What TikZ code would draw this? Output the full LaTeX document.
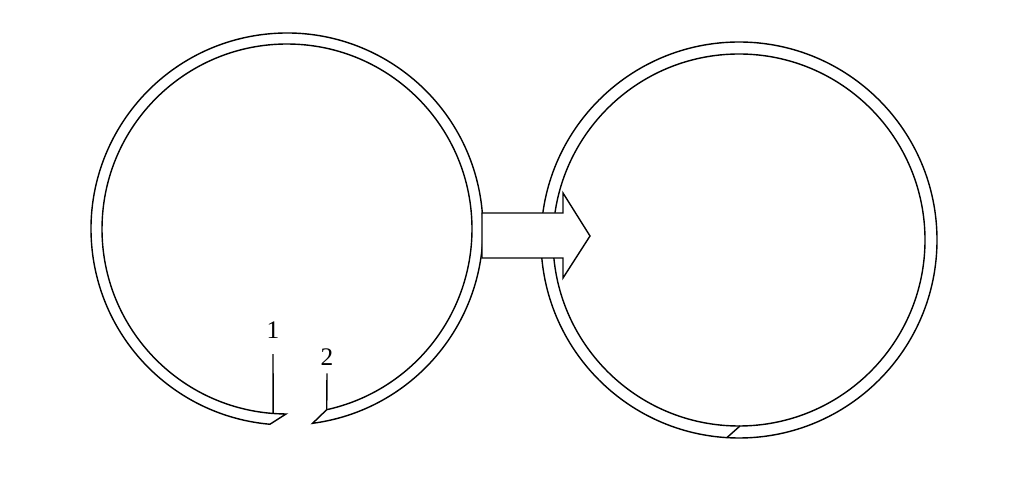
\documentclass[tikz,border=0pt]{standalone}
\usepackage{fontspec}
\setmainfont{Liberation Serif}
\usetikzlibrary{positioning}
\tikzset{
  ring/.style={line width=1pt},
  numlabel/.style={font=\fontsize{18}{20}\selectfont, inner sep=0pt},
}
\begin{document}
\begin{tikzpicture}[x=0.025cm, y=0.025cm]
  \useasboundingbox (0,0) rectangle (1024,479);
  \coordinate (L) at (287,250);
  \coordinate (R) at (739,239);
  % open ring
  \draw[ring] ([shift={(L)}]277.5:196) arc[start angle=277.5, end angle=625, radius=196]
      -- ([shift={(L)}]269.7:185) arc[start angle=269.7, end angle=-77.6, radius=185] -- cycle;
  % closed ring
  \draw[ring] (R) circle[radius=198] (R) circle[radius=186];
  \draw[ring] ([shift={(R)}]266.5:198) -- ([shift={(R)}]270.3:186);
  % arrow
  \draw[ring, fill=white] (482,221) -- (563,221) -- (563,201) -- (590,243)
      -- (563,286) -- (563,266) -- (482,266) -- cycle;
  % ends
  \coordinate (foot1) at ([shift={(L)}]265.7:185);
  \coordinate (foot2) at ([shift={(L)}]282.4:185);
  \node[numlabel] (one) at (273,149) {1};
  \node[numlabel] (two) at (327,122) {2};
  \draw[ring] ([yshift=-11pt]one.south) -- (foot1);
  \draw[ring] ([yshift=-5.5pt]two.south) -- (foot2);
\end{tikzpicture}
\end{document}
